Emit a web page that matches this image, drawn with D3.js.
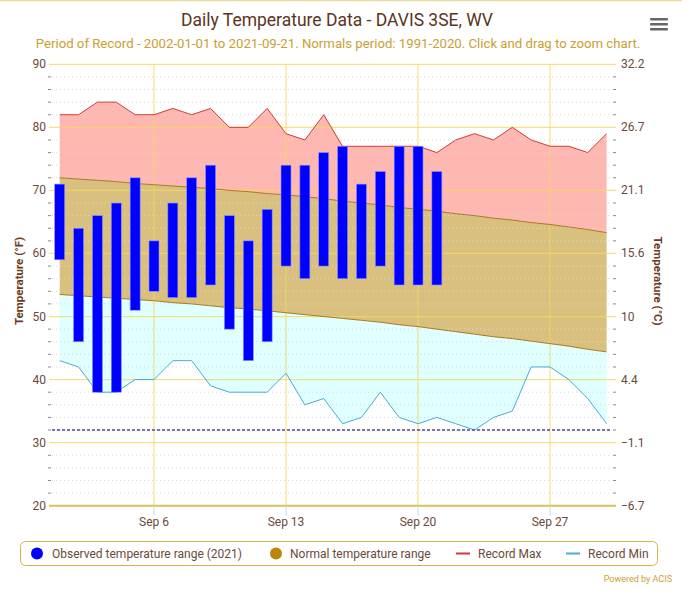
<!DOCTYPE html>
<html>
<head>
<meta charset="utf-8">
<script src="https://cdn.jsdelivr.net/npm/d3@7"></script>
<style>
  body { margin: 0; background: #fff; }
  svg { display: block; font-family: Roboto, "Noto Sans", sans-serif; }
</style>
</head>
<body>
<svg id="chart"></svg>
<script>
// Sep 1 .. Sep 30, 2021
const days = d3.range(1, 31);
const recordMax = [82,82,84,84,82,82,83,82,83,80,80,83,79,78,82,77,77,77,77,77,76,78,79,78,80,78,77,77,76,79];
const recordMin = [43,42,38,38,40,40,43,43,39,38,38,38,41,36,37,33,34,38,34,33,34,33,32,34,35,42,42,40,37,33];
const normalMax = [72.0,71.8,71.6,71.4,71.1,70.9,70.7,70.5,70.3,70.0,69.8,69.5,69.3,69.0,68.7,68.3,68.0,67.7,67.3,67.0,66.7,66.3,66.0,65.6,65.3,64.9,64.6,64.2,63.8,63.3];
const normalMin = [53.5,53.3,53.1,52.9,52.7,52.5,52.2,52.0,51.7,51.4,51.2,50.9,50.6,50.3,50.0,49.7,49.4,49.1,48.7,48.4,48.0,47.6,47.2,46.8,46.5,46.1,45.7,45.3,44.8,44.4];
// observed 2021, Sep 1 .. Sep 21
const obsMax = [71,64,66,68,72,62,68,72,74,66,62,67,74,74,76,77,71,73,77,77,73];
const obsMin = [59,46,38,38,51,54,53,53,55,48,43,46,58,56,58,56,56,58,55,55,55];
const freezing = 32;
const yTicksF = [20,30,40,50,60,70,80,90];
const xTickDays = [6,13,20,27];
const legendItems = ["Observed temperature range (2021)", "Normal temperature range", "Record Max", "Record Min"];

const width = 682, height = 593;
const plot = {left: 52, right: 612, top: 64.3, bottom: 505.7};

const svg = d3.select("#chart").attr("width", width).attr("height", height);

const date = d => new Date(Date.UTC(2021, 8, d));
const x = d3.scaleUtc()
    .domain([date(1), date(30)])
    .range([59.7, 606.6]);
const y = d3.scaleLinear()
    .domain([20, 90])
    .range([plot.bottom, plot.top]);
const toC = f => (f - 32) * 5 / 9;
const yC = d3.scaleLinear()
    .domain([toC(20), toC(90)])
    .range([plot.bottom, plot.top]);

const rows = days.map((d, i) => ({
    date: date(d),
    rmax: recordMax[i], rmin: recordMin[i],
    nmax: normalMax[i], nmin: normalMin[i]
}));

// top border line
svg.append("line")
    .attr("x1", 0).attr("x2", width).attr("y1", 0.5).attr("y2", 0.5)
    .attr("stroke", "#e8dca0").attr("stroke-width", 1.5);

// title + subtitle
svg.append("text")
    .attr("x", 337).attr("y", 26)
    .attr("text-anchor", "middle")
    .attr("font-size", 17.5)
    .attr("fill", "#5a3524")
    .text("Daily Temperature Data - DAVIS 3SE, WV");
svg.append("text")
    .attr("x", 338).attr("y", 48)
    .attr("text-anchor", "middle")
    .attr("font-size", 13.2)
    .attr("fill", "#c9a033")
    .text("Period of Record - 2002-01-01 to 2021-09-21. Normals period: 1991-2020. Click and drag to zoom chart.");

// hamburger
svg.append("g")
    .selectAll("rect")
    .data([0, 1, 2])
    .join("rect")
    .attr("x", 650).attr("y", i => 18 + i * 5)
    .attr("width", 18).attr("height", 2.6).attr("rx", 1)
    .attr("fill", "#666");

// shaded areas
const areaG = svg.append("g");
areaG.append("path")
    .datum(rows)
    .attr("d", d3.area().x(d => x(d.date)).y0(d => y(d.nmax)).y1(d => y(d.rmax)))
    .attr("fill", "#ffb7b2");
areaG.append("path")
    .datum(rows)
    .attr("d", d3.area().x(d => x(d.date)).y0(d => y(d.nmin)).y1(d => y(d.nmax)))
    .attr("fill", "#d9c07f");
areaG.append("path")
    .datum(rows)
    .attr("d", d3.area().x(d => x(d.date)).y0(d => y(d.rmin)).y1(d => y(d.nmin)))
    .attr("fill", "#e0ffff");

// minor grid (every 2 degrees)
const minor = d3.range(20, 91, 2).filter(v => v % 10 !== 0);
svg.append("g")
    .selectAll("line")
    .data(minor)
    .join("line")
    .attr("x1", plot.left).attr("x2", plot.right)
    .attr("y1", d => y(d)).attr("y2", d => y(d))
    .attr("stroke", "#d8d8d8").attr("stroke-width", 1)
    .attr("stroke-dasharray", "1,3");

// minor ticks both sides
svg.append("g")
    .selectAll("line")
    .data(minor)
    .join("line")
    .attr("x1", plot.left - 4).attr("x2", plot.left - 1)
    .attr("y1", d => y(d)).attr("y2", d => y(d))
    .attr("stroke", "#888");
svg.append("g")
    .selectAll("line")
    .data(minor)
    .join("line")
    .attr("x1", plot.right + 1).attr("x2", plot.right + 4)
    .attr("y1", d => y(d)).attr("y2", d => y(d))
    .attr("stroke", "#888");

// major horizontal grid
svg.append("g")
    .selectAll("line")
    .data(yTicksF)
    .join("line")
    .attr("x1", plot.left - 3).attr("x2", plot.right + 4)
    .attr("y1", d => y(d)).attr("y2", d => y(d))
    .attr("stroke", d => d === 20 ? "#d9c25a" : "#f2d860")
    .attr("stroke-opacity", d => d === 20 ? 1 : 0.75)
    .attr("stroke-width", d => d === 20 ? 2 : 1.2);

// vertical grid
svg.append("g")
    .selectAll("line")
    .data(xTickDays)
    .join("line")
    .attr("x1", d => x(date(d))).attr("x2", d => x(date(d)))
    .attr("y1", plot.top).attr("y2", plot.bottom)
    .attr("stroke", "#f2d860").attr("stroke-opacity", 0.75).attr("stroke-width", 1.2);

// x ticks + labels
const xAxis = svg.append("g");
xAxis.selectAll("line")
    .data(xTickDays)
    .join("line")
    .attr("x1", d => x(date(d))).attr("x2", d => x(date(d)))
    .attr("y1", plot.bottom + 1).attr("y2", plot.bottom + 10)
    .attr("stroke", "#ccd6eb");
xAxis.selectAll("text")
    .data(xTickDays)
    .join("text")
    .attr("x", d => x(date(d))).attr("y", 526)
    .attr("text-anchor", "middle")
    .attr("font-size", 12)
    .attr("fill", "#6b4a3a")
    .text(d => d3.utcFormat("%b %-d")(date(d)));

// y labels left (F) and right (C)
svg.append("g")
    .selectAll("text")
    .data(yTicksF)
    .join("text")
    .attr("x", 46).attr("y", d => y(d) + 4)
    .attr("text-anchor", "end")
    .attr("font-size", 12)
    .attr("fill", "#6b4a3a")
    .text(d => d);
svg.append("g")
    .selectAll("text")
    .data(yTicksF.map(toC))
    .join("text")
    .attr("x", 621).attr("y", d => yC(d) + 4)
    .attr("font-size", 12)
    .attr("fill", "#6b4a3a")
    .text(d => d3.format(".1f")(d).replace(/\.0$/, "").replace("-0.0", "0"));

// axis titles
svg.append("text")
    .attr("transform", "translate(23,281) rotate(-90)")
    .attr("text-anchor", "middle")
    .attr("font-size", 11.5).attr("font-weight", "bold")
    .attr("fill", "#6b3a22")
    .text("Temperature (°F)");
svg.append("text")
    .attr("transform", "translate(654,281) rotate(90)")
    .attr("text-anchor", "middle")
    .attr("font-size", 11.5).attr("font-weight", "bold")
    .attr("fill", "#6b3a22")
    .text("Temperature (°C)");

// normal boundary lines
const lineG = svg.append("g").attr("fill", "none");
lineG.append("path")
    .datum(rows)
    .attr("d", d3.line().x(d => x(d.date)).y(d => y(d.nmax)))
    .attr("stroke", "#a87a20").attr("stroke-width", 1);
lineG.append("path")
    .datum(rows)
    .attr("d", d3.line().x(d => x(d.date)).y(d => y(d.nmin)))
    .attr("stroke", "#a87a20").attr("stroke-width", 1);

// record lines
lineG.append("path")
    .datum(rows)
    .attr("d", d3.line().x(d => x(d.date)).y(d => y(d.rmax)))
    .attr("stroke", "#d43a30").attr("stroke-width", 1);
lineG.append("path")
    .datum(rows)
    .attr("d", d3.line().x(d => x(d.date)).y(d => y(d.rmin)))
    .attr("stroke", "#4aaad6").attr("stroke-width", 1);

// freezing line
svg.append("line")
    .attr("x1", plot.left).attr("x2", plot.right)
    .attr("y1", y(freezing)).attr("y2", y(freezing))
    .attr("stroke", "#4a4a9a").attr("stroke-width", 1.5)
    .attr("stroke-dasharray", "3,2");

// observed bars
svg.append("g")
    .selectAll("rect")
    .data(obsMax.map((v, i) => ({date: date(i + 1), hi: v, lo: obsMin[i]})))
    .join("rect")
    .attr("x", d => x(d.date) - 5)
    .attr("width", 10)
    .attr("y", d => y(d.hi))
    .attr("height", d => y(d.lo) - y(d.hi))
    .attr("fill", "#0000ff")
    .attr("stroke", "#8c8cff").attr("stroke-width", 0.6);

// legend
const leg = svg.append("g");
leg.append("rect")
    .attr("x", 20.5).attr("y", 541.5).attr("width", 637).attr("height", 24)
    .attr("rx", 5)
    .attr("fill", "#fff").attr("stroke", "#d4b44a");
const legX = [52, 290, 478, 588];
leg.append("circle").attr("cx", 37).attr("cy", 553.5).attr("r", 6).attr("fill", "#0000ff");
leg.append("circle").attr("cx", 276).attr("cy", 553.5).attr("r", 6).attr("fill", "#b8860b");
leg.append("line").attr("x1", 456).attr("x2", 470).attr("y1", 553.5).attr("y2", 553.5)
    .attr("stroke", "#d43a30").attr("stroke-width", 2);
leg.append("line").attr("x1", 566).attr("x2", 580).attr("y1", 553.5).attr("y2", 553.5)
    .attr("stroke", "#4aaad6").attr("stroke-width", 2);
leg.selectAll("text.item")
    .data(legendItems)
    .join("text")
    .attr("class", "item")
    .attr("x", (d, i) => legX[i]).attr("y", 558)
    .attr("font-size", 12)
    .attr("fill", "#6b4a3a")
    .text(d => d);

svg.append("text")
    .attr("x", 672).attr("y", 582)
    .attr("text-anchor", "end")
    .attr("font-size", 9)
    .attr("fill", "#c9a033")
    .text("Powered by ACIS");
</script>
</body>
</html>
